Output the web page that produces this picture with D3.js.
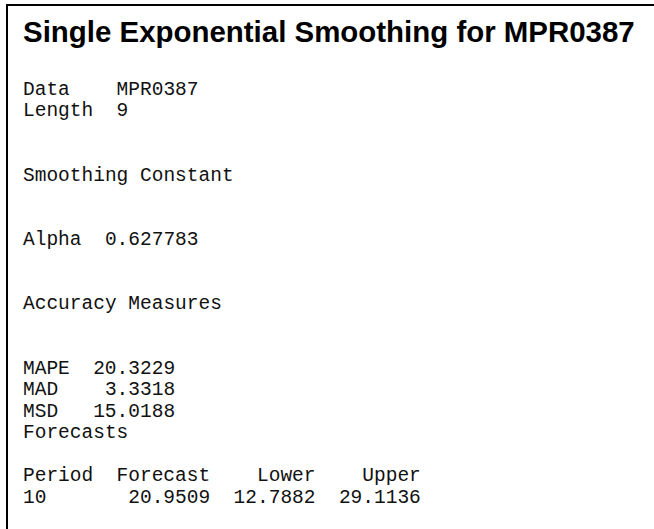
<!DOCTYPE html>
<html>
<head>
<meta charset="utf-8">
<script src="https://cdn.jsdelivr.net/npm/d3@7"></script>
<style>
  html, body { margin: 0; padding: 0; background: #fff; }
  svg { display: block; }
</style>
</head>
<body>
<svg id="chart" width="654" height="529"></svg>
<script>
// ---- data ----
const title = "Single Exponential Smoothing for MPR0387";
const infoLabels = ["Data", "Length"];
const infoValues = ["MPR0387", "9"];
const smoothingHeader = "Smoothing Constant";
const alphaLabel = "Alpha";
const alphaValue = "0.627783";
const accuracyHeader = "Accuracy Measures";
const accuracyLabels = ["MAPE", "MAD", "MSD"];
const accuracyValues = ["20.3229", "3.3318", "15.0188"];
const forecastsHeader = "Forecasts";
const forecastColumns = ["Period", "Forecast", "Lower", "Upper"];
const forecastRow = ["10", "20.9509", "12.7882", "29.1136"];

// ---- layout ----
const W = 654, H = 529;
const svg = d3.select("#chart");
const mono = "'Courier New', 'Liberation Mono', monospace";
const monoSize = 19.5;
const advance = monoSize * 0.6;      // px per character column
const col = d3.scaleLinear().domain([0, 1]).range([23, 23 + advance]);
// text rows (line index) -> baseline
const row = d3.scaleLinear().domain([0, 19]).range([95, 502.5]);

// frame: top and left rules
svg.append("path")
  .attr("d", `M7,${H} L7,5 L${W},5`)
  .attr("fill", "none").attr("stroke", "#000").attr("stroke-width", 2);

// title
const t = svg.append("text")
  .attr("x", 23).attr("y", 42)
  .attr("font-family", "Arial, 'Liberation Sans', sans-serif")
  .attr("font-weight", "bold").attr("font-size", 29)
  .attr("fill", "#000").text(title);
const tw = t.node().getComputedTextLength();
t.attr("font-size", 29 * 612 / tw);

function monoText(r, s, c, endCol) {
  const n = svg.append("text")
    .attr("font-family", mono).attr("font-size", monoSize)
    .attr("fill", "#111").attr("y", row(r)).text(s);
  if (endCol != null) n.attr("x", col(endCol)).attr("text-anchor", "end");
  else n.attr("x", col(c));
  return n;
}

infoLabels.forEach((l, i) => {
  monoText(i, l, 0);
  monoText(i, infoValues[i], 8);
});
monoText(4, smoothingHeader, 0);
monoText(7, alphaLabel, 0);
monoText(7, alphaValue, 7);
monoText(10, accuracyHeader, 0);
accuracyLabels.forEach((l, i) => {
  monoText(13 + i, l, 0);
  monoText(13 + i, accuracyValues[i], null, 13);
});
monoText(16, forecastsHeader, 0);
const ends = [6, 16, 25, 34];
forecastColumns.forEach((h, i) => {
  if (i === 0) monoText(18, h, 0);
  else monoText(18, h, null, ends[i]);
});
forecastRow.forEach((v, i) => {
  if (i === 0) monoText(19, v, 0);
  else monoText(19, v, null, ends[i]);
});
</script>
</body>
</html>
